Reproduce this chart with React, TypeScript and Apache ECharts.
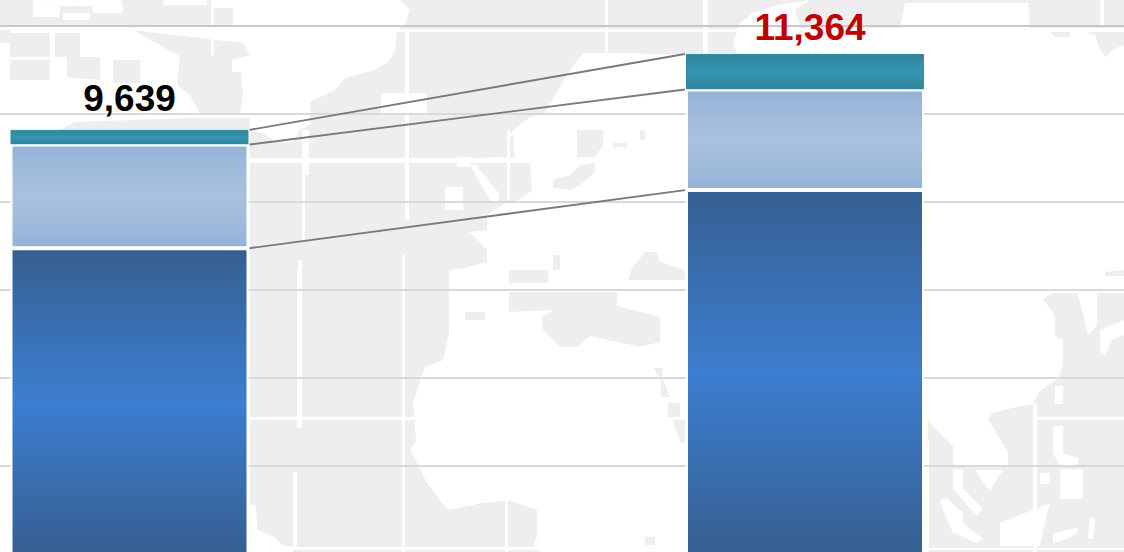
import React, { useEffect, useRef } from "react";
import * as echarts from "echarts";

const categories = ["A", "B"];
const lowerValues = [6950, 8270];
const middleValues = [2357, 2287];
const upperValues = [332, 807];
const totals = [9639, 11364];
const totalLabels = ["9,639", "11,364"];
const totalColors = ["#000000", "#c00000"];
const labelGaps = [14, 10];
const labelShifts = [[0, 1], [5, 2]];
const yTicks = { min: 0, max: 12000, interval: 2000 };

const GRAY = "#eeeeee";
const WHITE = "#ffffff";
type P = number[][];

const grayPolys: P[] = [
  // Atlantic & north
  [[400,0],[810,0],[777,5],[753,13],[740,23],[733,43],[737,54],[650,54],[637,53],[583,53],[570,70],[560,87],[545,113],[530,117],[517,127],[503,140],[513,135],[515,157],[470,158],[470,163],[530,163],[532,190],[518,200],[505,203],[487,215],[487,230],[470,232],[487,250],[487,262],[465,268],[449,270],[449,333],[443,360],[425,367],[413,403],[416,440],[410,450],[417,463],[427,483],[440,500],[448,510],[483,503],[507,500],[537,510],[537,537],[533,547],[540,552],[250,552],[250,130],[265,134],[275,142],[293,142],[300,130],[310,125],[310,102],[335,90],[345,78],[375,70],[388,62],[395,50],[397,30],[405,24],[410,10]],
  // North top band right of bar 2
  [[810,0],[1030,0],[1030,3],[905,3],[900,28],[800,28],[795,10]],
  [[1028,0],[1124,0],[1124,28],[1030,28]],
  [[1083,30],[1124,30],[1124,45],[1112,50],[1105,57],[1098,45],[1095,35]],
  [[1048,30],[1070,30],[1070,37],[1055,37]],
  [[1105,272],[1124,270],[1124,276],[1105,276]],
  // Hudson / Canada
  [[122,0],[213,0],[213,8],[233,8],[233,25],[122,25]],
  [[133,30],[243,43],[250,55],[232,60],[232,72],[241,72],[243,93],[240,114],[200,114],[190,95],[177,85],[180,56],[150,40]],
  [[60,130],[75,122],[190,118],[250,118],[250,130]],
  // Arctic mottling
  [[0,0],[33,0],[33,7],[122,5],[122,25],[0,25]],
  [[0,30],[10,30],[10,33],[50,33],[50,57],[10,57],[10,43],[0,43]],
  [[10,60],[50,60],[50,80],[10,80]],
  [[55,33],[80,33],[80,57],[83,57],[100,57],[100,80],[67,77],[67,57],[55,57]],
  [[113,60],[140,60],[140,83],[113,83]],
  // Around Europe
  [[577,130],[603,130],[603,145],[595,157],[577,157]],
  [[553,188],[553,180],[570,175],[580,165],[595,163],[595,172],[580,185],[570,190]],
  [[613,143],[627,143],[627,147],[613,147]],
  [[640,130],[645,130],[645,140],[640,140]],
  [[628,280],[632,268],[645,252],[657,252],[660,262],[685,270],[685,280]],
  [[553,255],[560,255],[560,270],[553,270]],
  [[509,270],[548,270],[548,283],[509,283]],
  // Mediterranean
  [[465,312],[485,312],[485,320],[465,320]],
  [[509,292],[617,292],[617,306],[660,317],[660,342],[640,347],[617,342],[590,336],[577,347],[560,347],[543,330],[542,317],[553,310],[509,312]],
  // Red Sea / Indian coast
  [[653,368],[662,368],[662,377],[670,397],[661,397],[661,380]],
  [[668,403],[680,403],[680,417],[668,417]],
  [[673,420],[685,420],[685,443],[680,443]],
  [[645,537],[655,537],[655,545],[645,545]],
  // South-east
  [[1043,299],[1053,293],[1124,293],[1124,552],[928,552],[928,420],[945,439],[953,446],[953,466],[1008,466],[1008,453],[1000,439],[988,419],[992,413],[1012,408],[1033,404],[1040,391],[1058,378],[1063,366],[1063,340],[1055,336],[1055,316]],
];

const whitePolys: P[] = [
  [[381,93],[427,93],[427,113],[381,113]],
  [[445,187],[463,187],[463,210],[445,210]],
  [[457,157],[470,157],[470,167],[457,167]],
  [[470,165],[476,165],[500,195],[497,203],[490,200]],
  [[250,505],[256,505],[257,530],[275,537],[283,546],[293,546],[293,552],[250,552]],
  [[1077,293],[1097,293],[1097,325],[1088,335],[1082,310]],
  [[1100,330],[1124,320],[1124,335],[1112,340],[1105,356],[1100,350]],
  [[1055,386],[1063,386],[1063,404],[1055,404]],
  [[1053,426],[1063,426],[1063,453],[1078,458],[1078,466],[1060,466],[1053,453]],
  [[1060,469],[1083,469],[1083,499],[1060,499]],
  [[1040,473],[1050,473],[1050,484],[1040,484]],
  [[953,469],[963,469],[963,489],[983,509],[977,516],[953,489]],
  [[975,470],[1003,470],[990,490],[985,485]],
  [[940,500],[947,498],[963,513],[963,523],[983,539],[977,543],[953,533],[943,510]],
  [[1000,523],[1030,511],[1043,506],[1050,503],[1047,513],[1040,546],[1000,546]],
  [[1053,533],[1077,528],[1077,533],[1067,539],[1053,543]],
  [[1090,518],[1095,518],[1093,539],[1088,539]],
  // arctic mottling cut-outs
  [[33,7],[60,7],[60,17],[33,17]],
  [[63,13],[90,13],[90,20],[63,20]],
  [[93,5],[123,5],[123,13],[93,13]],
  [[163,0],[207,0],[207,5],[163,5]],
  [[233,63],[243,63],[243,72],[233,72]],
];

const whiteRects: number[][] = [
  [250, 29, 874, 3],
  [250, 158, 420, 5],
  [250, 417, 440, 3],
  [250, 547, 300, 3],
  [297, 270, 5, 158],
  [293, 472, 4, 75],
  [302, 130, 7, 45],
  [302, 175, 3, 65],
  [298, 260, 4, 10],
  [405, 30, 4, 190],
  [402, 255, 3, 297],
  [505, 497, 3, 55],
  [507, 130, 3, 70],
  [605, 0, 3, 52],
  [703, 0, 5, 55],
  [211, 0, 3, 55],
  [1100, 0, 4, 26],
  [1033, 404, 4, 148],
  [1037, 417, 87, 3],
  [928, 548, 196, 2],
  [927, 440, 2, 112],
];

function mapGraphics() {
  const poly = (points: P, fill: string) => ({
    type: "polygon", z: -1, silent: true, shape: { points }, style: { fill },
  });
  return [
    ...grayPolys.map((p) => poly(p, GRAY)),
    ...whitePolys.map((p) => poly(p, WHITE)),
    ...whiteRects.map(([x, y, width, height]) => ({
      type: "rect", z: -1, silent: true, shape: { x, y, width, height }, style: { fill: WHITE },
    })),
  ];
}

const grad = (edge: string, mid: string) =>
  new echarts.graphic.LinearGradient(0, 0, 0, 1, [
    { offset: 0, color: edge },
    { offset: 0.5, color: mid },
    { offset: 1, color: edge },
  ]);

const BAR_WIDTH = 238;
const lowerTops = lowerValues;
const middleTops = lowerValues.map((v, i) => v + middleValues[i]);
const connectors = [lowerTops, middleTops, totals].map((c) => [0, c[0], c[1]]);

export default function App() {
  const ref = useRef<HTMLDivElement>(null);
  useEffect(() => {
    document.body.style.margin = "0";
    document.documentElement.style.overflow = "hidden";
    const chart = echarts.init(ref.current!, undefined, { renderer: "svg" });
    chart.setOption({
      animation: false,
      backgroundColor: "#ffffff",
      graphic: { elements: mapGraphics() },
      grid: { left: -208.25, top: 26, width: 1351, height: 528, containLabel: false, outerBoundsMode: "none" },
      xAxis: {
        type: "category",
        data: categories,
        axisLine: { show: false },
        axisTick: { show: false },
        axisLabel: { show: false },
      },
      yAxis: {
        type: "value",
        min: yTicks.min,
        max: yTicks.max,
        interval: yTicks.interval,
        axisLine: { show: false },
        axisTick: { show: false },
        axisLabel: { show: false },
        splitLine: {
          show: true,
          lineStyle: {
            width: 2,
            color: ["#d9d9d9", "#d9d9d9", "#d9d9d9", "#d9d9d9", "#d9d9d9", "#d9d9d9", "#c8c8c8"],
          },
        },
      },
      series: [
        {
          type: "bar",
          stack: "t",
          barWidth: BAR_WIDTH,
          z: 3,
          data: lowerValues,
          itemStyle: { color: grad("#365f91", "#3c7ed0"), borderColor: "#ffffff", borderWidth: 2 },
        },
        {
          type: "bar",
          stack: "t",
          barWidth: BAR_WIDTH,
          z: 3,
          data: middleValues,
          itemStyle: { color: grad("#95b3d7", "#a9c1de"), borderColor: "#ffffff", borderWidth: 2 },
        },
        {
          type: "bar",
          stack: "t",
          barWidth: BAR_WIDTH,
          z: 2,
          data: upperValues.map((value, i) => ({
            value,
            label: {
              show: true,
              position: "top",
              distance: labelGaps[i],
              offset: labelShifts[i],
              formatter: totalLabels[i],
              color: totalColors[i],
              fontFamily: "Liberation Sans",
              fontWeight: "bold",
              fontSize: 37,
              textBorderWidth: 0,
            },
          })),
          itemStyle: { color: grad("#31849b", "#3596b3"), borderColor: "#3189a3", borderWidth: 1 },
        },
        {
          type: "custom",
          coordinateSystem: "cartesian2d",
          silent: true,
          z: 4,
          data: connectors,
          encode: { x: 0, y: 1 },
          renderItem: (_p: any, api: any) => {
            const a = api.coord([0, api.value(1)]);
            const b = api.coord([1, api.value(2)]);
            return {
              type: "line",
              shape: { x1: a[0] + BAR_WIDTH / 2 + 1, y1: a[1], x2: b[0] - BAR_WIDTH / 2 - 1, y2: b[1] },
              style: { stroke: "#7a7a7a", lineWidth: 1.9 },
            };
          },
        },
      ],
    });
    return () => chart.dispose();
  }, []);
  return <div ref={ref} style={{ width: 1124, height: 552 }} />;
}
